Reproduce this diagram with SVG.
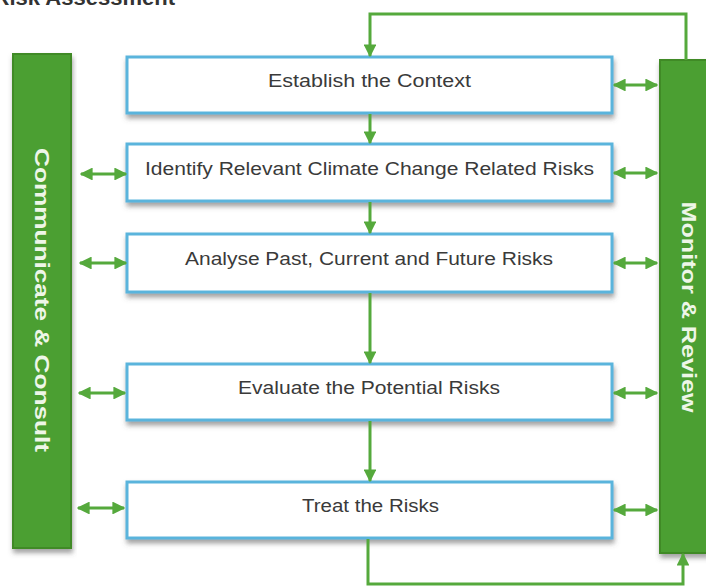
<svg xmlns="http://www.w3.org/2000/svg" width="706" height="586" viewBox="0 0 706 586">
<style>
.box{fill:#ffffff;stroke:#5ab4dc;stroke-width:3}
.bar{fill:#4c9f30;stroke:#3f8a27;stroke-width:2}
.lbl{font-family:"Liberation Sans",Arial,sans-serif;font-size:17.5px;fill:#3a3a3a;text-anchor:middle}
.vlbl{font-family:"Liberation Sans",Arial,sans-serif;font-size:21px;font-weight:bold;fill:#eef6e8;text-anchor:middle}
.ln{fill:none;stroke:#55a93c;stroke-width:3}
</style>
<defs>
<filter id="sh" x="-10%" y="-20%" width="120%" height="150%">
<feDropShadow dx="1" dy="4" stdDeviation="2.5" flood-color="#555" flood-opacity="0.55"/>
</filter>
<marker id="ah" viewBox="0 0 10 10" refX="9" refY="5" markerWidth="4.3" markerHeight="4.3" orient="auto-start-reverse" markerUnits="strokeWidth">
<path d="M0,0 L10,5 L0,10 z" fill="#55a93c"/>
</marker>
</defs>
<text x="175" y="5" font-family="Liberation Sans,Arial,sans-serif" font-size="22" font-weight="bold" fill="#333" text-anchor="end">Risk Assessment</text>

<g id="communicate">
<rect class="bar" x="13" y="54" width="58" height="494" filter="url(#sh)"/>
<text class="vlbl" transform="translate(35,300) rotate(90)" textLength="304" lengthAdjust="spacingAndGlyphs">Communicate &amp; Consult</text>
</g>
<g id="monitor">
<rect class="bar" x="660" y="60" width="48" height="493" filter="url(#sh)"/>
<text class="vlbl" transform="translate(682,307) rotate(90)" textLength="211" lengthAdjust="spacingAndGlyphs">Monitor &amp; Review</text>
</g>

<g id="context">
<rect class="box" x="127" y="57" width="485" height="56" filter="url(#sh)"/>
<text class="lbl" x="369.5" y="87" textLength="203" lengthAdjust="spacingAndGlyphs">Establish the Context</text>
</g>
<g id="identify">
<rect class="box" x="127" y="144" width="485" height="57" filter="url(#sh)"/>
<text class="lbl" x="369.5" y="175" textLength="449" lengthAdjust="spacingAndGlyphs">Identify Relevant Climate Change Related Risks</text>
</g>
<g id="analyse">
<rect class="box" x="127" y="234" width="485" height="58" filter="url(#sh)"/>
<text class="lbl" x="369" y="265" textLength="368" lengthAdjust="spacingAndGlyphs">Analyse Past, Current and Future Risks</text>
</g>
<g id="evaluate">
<rect class="box" x="127" y="364" width="485" height="56" filter="url(#sh)"/>
<text class="lbl" x="369" y="394" textLength="262" lengthAdjust="spacingAndGlyphs">Evaluate the Potential Risks</text>
</g>
<g id="treat">
<rect class="box" x="127" y="482" width="485" height="56" filter="url(#sh)"/>
<text class="lbl" x="370.5" y="512" textLength="137" lengthAdjust="spacingAndGlyphs">Treat the Risks</text>
</g>

<g id="connectors">
<path class="ln" d="M686,60 V14 H370 V56" marker-end="url(#ah)"/>
<path class="ln" d="M370,114 V143" marker-end="url(#ah)"/>
<path class="ln" d="M370,202 V233" marker-end="url(#ah)"/>
<path class="ln" d="M370,293 V363" marker-end="url(#ah)"/>
<path class="ln" d="M370,421 V481" marker-end="url(#ah)"/>
<path class="ln" d="M368,539 V584 H683 V554" marker-end="url(#ah)"/>
<path class="ln" d="M81,174 H126" marker-start="url(#ah)" marker-end="url(#ah)"/>
<path class="ln" d="M80,263 H126" marker-start="url(#ah)" marker-end="url(#ah)"/>
<path class="ln" d="M79,393 H125" marker-start="url(#ah)" marker-end="url(#ah)"/>
<path class="ln" d="M78,508 H124" marker-start="url(#ah)" marker-end="url(#ah)"/>
<path class="ln" d="M614,85 H657" marker-start="url(#ah)" marker-end="url(#ah)"/>
<path class="ln" d="M614,173 H657" marker-start="url(#ah)" marker-end="url(#ah)"/>
<path class="ln" d="M614,263 H657" marker-start="url(#ah)" marker-end="url(#ah)"/>
<path class="ln" d="M614,393 H657" marker-start="url(#ah)" marker-end="url(#ah)"/>
<path class="ln" d="M614,510 H657" marker-start="url(#ah)" marker-end="url(#ah)"/>
</g>
</svg>
